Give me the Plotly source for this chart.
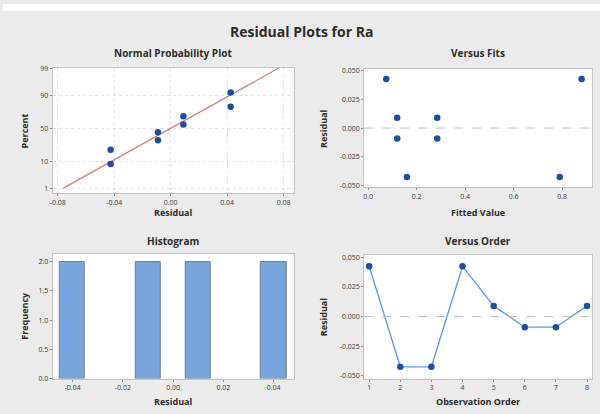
import plotly.graph_objects as go
from statistics import NormalDist

# ---- data ----
residuals = [0.0425, -0.0425, -0.0425, 0.0425, 0.009, -0.009, -0.009, 0.009]
fitted = [0.075, 0.16, 0.79, 0.88, 0.12, 0.12, 0.285, 0.285]
fits_resid = [0.0425, -0.0425, -0.0425, 0.0425, 0.009, -0.009, -0.009, 0.009]
order = [1, 2, 3, 4, 5, 6, 7, 8]

npp_resid = [-0.0425, -0.0425, -0.009, -0.009, 0.009, 0.009, 0.0425, 0.0425]
npp_percent = [8.3, 20.2, 32.1, 44.0, 56.0, 67.9, 79.8, 91.7]
fit_line_x = [-0.0763, 0.0763]
fit_line_pct = [1, 99]

pct_ticks = [1, 10, 50, 90, 99]
npp_xticks = [-0.08, -0.04, 0.0, 0.04, 0.08]
fits_xticks = [0.0, 0.2, 0.4, 0.6, 0.8]
resid_yticks = [-0.05, -0.025, 0.0, 0.025, 0.05]
hist_xticks = [-0.04, -0.02, 0.0, 0.02, 0.04]
hist_yticks = [0.0, 0.5, 1.0, 1.5, 2.0]

nd = NormalDist()
z = lambda p: nd.inv_cdf(p / 100.0)

def lab(v, fmt):
    return format(v, fmt).replace("\u2212", "-")

MARK = "#1d4f9e"
FONT = "Open Sans"
TXT = "#2b2b2b"
TICKC = "#3a3a3a"
W, H = 600, 414

fig = go.Figure()

# Normal probability plot
fig.add_trace(go.Scatter(x=fit_line_x, y=[z(p) for p in fit_line_pct], mode="lines",
                         line=dict(color="#d47f7d", width=1.3), xaxis="x", yaxis="y", hoverinfo="skip"))
fig.add_trace(go.Scatter(x=npp_resid, y=[z(p) for p in npp_percent], mode="markers",
                         marker=dict(color=MARK, size=6.5), xaxis="x", yaxis="y"))
# Versus fits
fig.add_trace(go.Scatter(x=fitted, y=fits_resid, mode="markers",
                         marker=dict(color=MARK, size=6.5), xaxis="x2", yaxis="y2"))
# Histogram
fig.add_trace(go.Histogram(x=residuals, xbins=dict(start=-0.045, end=0.045, size=0.01),
                           marker=dict(color="#77a4da", line=dict(color="#6d7f96", width=1)),
                           xaxis="x3", yaxis="y3"))
# Versus order
fig.add_trace(go.Scatter(x=order, y=residuals, mode="lines+markers",
                         line=dict(color="#5c9ad8", width=1.3),
                         marker=dict(color=MARK, size=6.5), xaxis="x4", yaxis="y4"))

def px_dom_x(a, b):
    return [a / W, b / W]

def px_dom_y(top, bottom):
    return [1 - bottom / H, 1 - top / H]

axcommon = dict(showline=True, linecolor="#c4c4c4", linewidth=1, mirror=True,
                ticks="outside", ticklen=2, tickcolor="#8a8a8a",
                tickfont=dict(family=FONT, size=7, color=TICKC), zeroline=False)

npp_yvals = [z(p) for p in pct_ticks]
fig.update_layout(
    width=W, height=H, showlegend=False,
    margin=dict(l=0, r=0, t=0, b=0),
    paper_bgcolor="#ebebeb", plot_bgcolor="white",
    bargap=0,
    xaxis=dict(domain=px_dom_x(50, 292), anchor="y", range=[-0.0835, 0.087],
               tickvals=npp_xticks, ticktext=[lab(v, ".2f") for v in npp_xticks],
               showgrid=True, gridcolor="#e2e2e2", griddash="dot", **axcommon),
    yaxis=dict(domain=px_dom_y(65, 193), anchor="x", range=[z(1) - 0.19, z(99) + 0.02],
               tickvals=npp_yvals, ticktext=[str(p) for p in pct_ticks],
               showgrid=True, gridcolor="#e2e2e2", griddash="dot", **axcommon),
    xaxis2=dict(domain=px_dom_x(363, 592), anchor="y2", range=[-0.016, 0.923],
                tickvals=fits_xticks, ticktext=[lab(v, ".1f") for v in fits_xticks],
                showgrid=False, **axcommon),
    yaxis2=dict(domain=px_dom_y(66, 187), anchor="x2", range=[-0.0515, 0.0515],
                tickvals=resid_yticks, ticktext=[lab(v, ".3f") for v in resid_yticks],
                showgrid=False, **axcommon),
    xaxis3=dict(domain=px_dom_x(50, 292), anchor="y3", range=[-0.0479, 0.0479],
                tickvals=hist_xticks, ticktext=[lab(v, ".2f") for v in hist_xticks],
                showgrid=False, **axcommon),
    yaxis3=dict(domain=px_dom_y(255, 382), anchor="x3", range=[0, 2.13],
                tickvals=hist_yticks, ticktext=[lab(v, ".1f") for v in hist_yticks],
                showgrid=False, **axcommon),
    xaxis4=dict(domain=px_dom_x(363, 592), anchor="y4", range=[0.84, 8.16],
                tickvals=order, ticktext=[str(v) for v in order],
                showgrid=False, **axcommon),
    yaxis4=dict(domain=px_dom_y(256, 382), anchor="x4", range=[-0.0525, 0.052],
                tickvals=resid_yticks, ticktext=[lab(v, ".3f") for v in resid_yticks],
                showgrid=False, **axcommon),
)

# white strip at top and dashed zero reference lines
fig.add_shape(type="rect", xref="paper", yref="paper", x0=0, x1=1, y0=1 - 7 / H, y1=1,
              fillcolor="white", line=dict(width=0), layer="below")
for xa, ya in [("x2", "y2"), ("x4", "y4")]:
    fig.add_shape(type="line", xref=f"{xa} domain", yref=ya, x0=0, x1=1, y0=0, y1=0,
                  line=dict(color="#bdbdbd", width=1, dash="dash"))

def ann(text, xpx, ypx, size, bold=False, angle=0):
    fig.add_annotation(text=f"<b>{text}</b>" if bold else text, x=xpx / W, y=1 - ypx / H,
                       xref="paper", yref="paper", showarrow=False, textangle=angle,
                       font=dict(family=FONT, size=size, color=TXT), xanchor="center", yanchor="middle")

ann("Residual Plots for Ra", 300, 28, 14, bold=True)
ann("Normal Probability Plot", 171, 50, 10, bold=True)
ann("Versus Fits", 477, 50, 10, bold=True)
ann("Histogram", 171, 242, 10, bold=True)
ann("Versus Order", 477, 242, 10, bold=True)
ann("Residual", 171, 213, 9, bold=True)
ann("Fitted Value", 477, 213, 9, bold=True)
ann("Residual", 171, 405, 9, bold=True)
ann("Observation Order", 477, 405, 9, bold=True)
ann("Percent", 22, 129, 9, bold=True, angle=-90)
ann("Residual", 322, 127, 9, bold=True, angle=-90)
ann("Frequency", 22, 318, 9, bold=True, angle=-90)
ann("Residual", 322, 319, 9, bold=True, angle=-90)

fig.write_html("out.html", config={"displayModeBar": False},
               post_script="document.body.style.margin='0';document.body.style.overflow='hidden';")
